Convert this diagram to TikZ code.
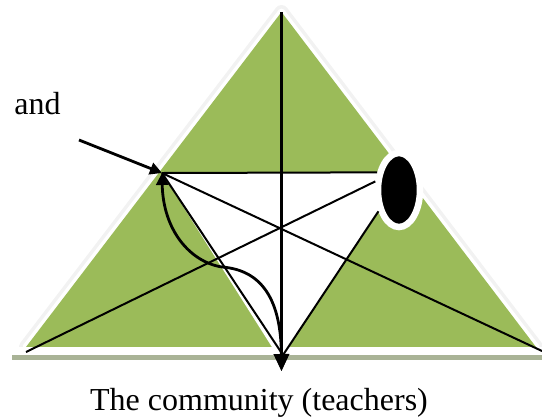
\documentclass[tikz,border=0pt]{standalone}
\usepackage{fontspec}
\setmainfont{Liberation Serif}
\usetikzlibrary{arrows.meta,positioning,shapes.geometric,shadows}
\definecolor{leafgreen}{HTML}{9BBB59}
\definecolor{baseshadow}{HTML}{A9B396}
\pgfdeclarelayer{bg}
\pgfsetlayers{bg,main}

\begin{document}
\begin{tikzpicture}[x=0.5pt,y=-0.5pt,
    edge/.style={line width=1pt},
    arr/.style={line width=1.4pt,-{Triangle[length=6pt,width=6pt]}},
    big/.style={line width=1.4pt,-{Triangle[length=8.5pt,width=7.5pt]}},
    eye/.style={ellipse,fill=black,draw=white,line width=3.25pt,inner sep=0pt,
      minimum width=21pt,minimum height=37pt,
      drop shadow={shadow xshift=1pt,shadow yshift=-1pt,opacity=.3,fill=gray}},
    lbl/.style={font=\fontsize{16}{19}\selectfont,inner sep=0pt}]
  \useasboundingbox (0,0) rectangle (542,419);
  % corners of the pyramid and of the inner triangle
  \coordinate (apex) at (281.5,12);
  \coordinate (lb) at (26,347);
  \coordinate (rb) at (536,347);
  \coordinate (tl) at (162,173);
  \coordinate (bot) at (283,355);
  \coordinate (tip) at (281.5,371);
  \coordinate (lend) at (26,352);
  \coordinate (rend) at (542,351);
  \coordinate (src) at (79,140);
  \coordinate (kink) at (222,267);
  \node[eye] (el) at (399,190) {};
  \node[lbl,anchor=base west] (and) at (14,114) {and};
  \node[lbl,anchor=base] (comm) at (259,410) {The community (teachers)};
  \begin{pgfonlayer}{bg}
    \draw[gray!10,line width=7pt,line join=round] (apex) -- (lb) -- (rb) -- cycle;
    \draw[white,line width=3.5pt,line join=round] (apex) -- (lb) -- (rb) -- cycle;
    \fill[leafgreen] (apex) -- (lb) -- (rb) -- cycle;
    \fill[white] (12,347) rectangle (542,355);
    \fill[baseshadow] (12,355) rectangle (542,360);
    \fill[white] (tl) -- (el.141) -- (el.180) -- (el.226) -- (bot) -- (277,355) -- cycle;
  \end{pgfonlayer}
  \draw[big] (apex) -- (tip);
  \draw[edge] (tl) -- (el.141);
  \draw[edge] (tl) -- (rend);
  \draw[edge] (lend) -- (el.160);
  \draw[edge] (tl) -- (bot);
  \draw[edge] (el.226) -- (bot);
  \draw[arr] (src) -- (tl);
  \draw[line width=1.4pt,{Triangle[length=6pt,width=6pt]}-{Triangle[length=8.5pt,width=7.5pt]}]
    (tl) .. controls (163,230) and (190,262) .. (kink) .. controls (262,270) and (281,300) .. (tip);
\end{tikzpicture}
\end{document}
